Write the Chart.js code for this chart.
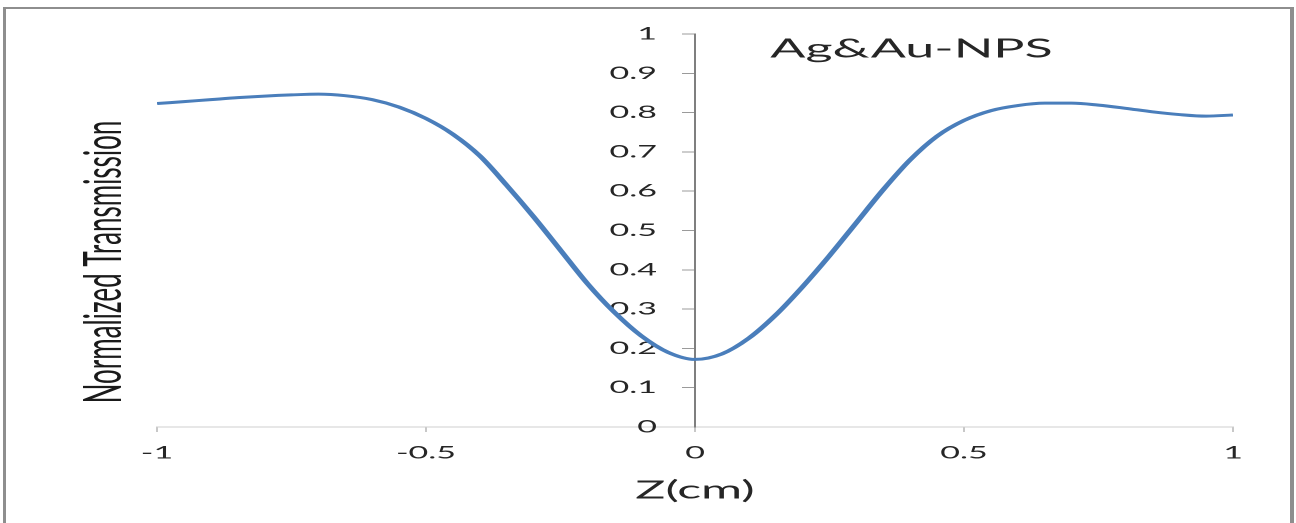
<!DOCTYPE html>
<html lang="en">
<head>
<meta charset="UTF-8">
<title>Ag&amp;Au-NPS | Normalized Transmission</title>
<script src="https://cdn.jsdelivr.net/npm/chart.js@4.4.1/dist/chart.umd.min.js"></script>
<style>
  html, body { margin: 0; padding: 0; background: #fff; overflow: hidden; }
  /* moldura cinza em volta do grafico */
  .moldura {
    position: absolute; left: 3px; top: 7px; width: 1291px; height: 560px;
    border: 3px solid #8e8e8e; border-top-width: 2px; border-right-width: 4px;
    box-sizing: border-box;
  }
  /* a figura original esta esticada na horizontal: desenho em 648px e estico 2x */
  .tela {
    position: absolute; left: 0; top: 0; width: 648px; height: 523px;
    transform: scaleX(2); transform-origin: 0 0;
  }
</style>
</head>
<body>
<div class="moldura"></div>
<div class="tela">
  <canvas id="grafico" width="648" height="523" style="width:648px;height:523px"></canvas>
</div>

<script>
// dados
const posicaoZ = [-1.00, -0.95, -0.90, -0.85, -0.80, -0.75, -0.70, -0.65, -0.60, -0.55,
                  -0.50, -0.45, -0.40, -0.35, -0.30, -0.25, -0.20, -0.15, -0.10, -0.05,
                   0.00,  0.05,  0.10,  0.15,  0.20,  0.25,  0.30,  0.35,  0.40,  0.45,
                   0.50,  0.55,  0.60,  0.65,  0.70,  0.75,  0.80,  0.85,  0.90,  0.95, 1.00];
const transmissao = [0.823, 0.828, 0.833, 0.838, 0.842, 0.845, 0.847, 0.843, 0.833, 0.814,
                     0.785, 0.745, 0.690, 0.615, 0.535, 0.450, 0.365, 0.292, 0.232, 0.190,
                     0.172, 0.186, 0.226, 0.285, 0.357, 0.436, 0.520, 0.604, 0.680, 0.740,
                     0.780, 0.805, 0.818, 0.824, 0.824, 0.819, 0.811, 0.802, 0.795, 0.791, 0.794];
const rotuloAmostra = 'Ag&Au-NPS';
const tituloX = 'Z(cm)';
const tituloY = 'Normalized Transmission';

const pontos = posicaoZ.map((z, i) => ({ x: z, y: transmissao[i] }));

const fonte = 'Lato';

// rotulos sem zeros sobrando: 1, 0.9 ... e -1, -0.5 ...
function formatarTick(valor) {
  return String(Number(valor.toFixed(2)));
}

// escreve o nome da amostra e o titulo do eixo y
const textos = {
  id: 'textos',
  afterDraw(chart) {
    const ctx = chart.ctx;
    const x = chart.scales.x.getPixelForValue(0.14);
    const y = chart.scales.y.getPixelForValue(0.94);
    ctx.save();
    ctx.font = '26px ' + fonte;
    ctx.fillStyle = '#262626';
    ctx.textAlign = 'left';
    ctx.textBaseline = 'alphabetic';
    ctx.fillText(rotuloAmostra, x, y);

    ctx.translate(52, 262);
    ctx.rotate(-Math.PI / 2);
    ctx.font = '26px ' + fonte;
    ctx.fillStyle = '#1a1a1a';
    ctx.textAlign = 'center';
    ctx.textBaseline = 'middle';
    ctx.fillText(tituloY, 0, 0);
    ctx.restore();
  }
};

const config = {
  type: 'line',
  data: {
    datasets: [{
      label: rotuloAmostra,
      data: pontos,
      borderColor: '#4a7ebb',
      borderWidth: 3,
      pointRadius: 0,
      fill: false,
      cubicInterpolationMode: 'monotone'
    }]
  },
  options: {
    responsive: false,
    devicePixelRatio: 2,
    animation: false,
    layout: { padding: { left: 78.5, right: 31.5, top: 34, bottom: 17.6 } },
    plugins: {
      legend: { display: false },
      tooltip: { enabled: false }
    },
    scales: {
      x: {
        type: 'linear',
        position: 'bottom',
        min: -1, max: 1,
        ticks: {
          stepSize: 0.5,
          padding: 11,
          color: '#262626',
          font: { family: fonte, size: 17 },
          callback: formatarTick
        },
        grid: { drawOnChartArea: false, drawTicks: true, tickLength: 5, color: '#c8c8c8' },
        border: { color: '#cfcfcf', width: 1 },
        title: {
          display: true, text: tituloX, color: '#262626',
          font: { family: fonte, size: 25 },
          padding: { top: 1, bottom: 0 }
        }
      },
      y: {
        type: 'linear',
        position: 'center',
        min: 0, max: 1,
        ticks: {
          stepSize: 0.1,
          padding: 13,
          color: '#262626',
          font: { family: fonte, size: 17 },
          callback: formatarTick
        },
        grid: { drawOnChartArea: false, drawTicks: true, tickLength: 6, color: '#9a9a9a' },
        border: { color: '#7f7f7f', width: 1 }
      }
    }
  },
  plugins: [textos]
};

new Chart(document.getElementById('grafico'), config);
</script>
</body>
</html>
